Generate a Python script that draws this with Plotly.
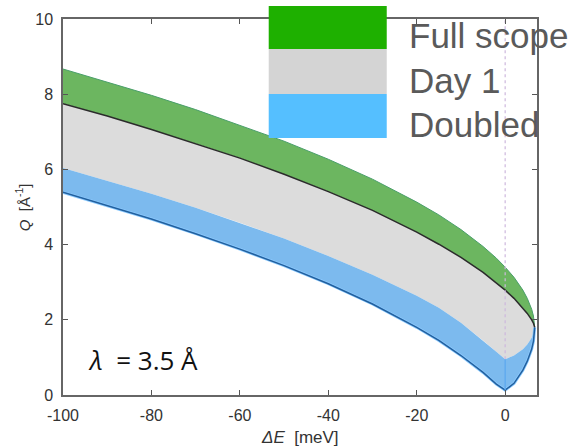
import plotly.graph_objects as go

# Energy transfer (meV)
dE = [-100, -90, -80, -70, -60, -50, -40, -30, -20, -15, -10, -5, -2, 0, 2, 4, 5, 6, 6.4, 6.68]
# Q boundaries (1/Å)
green_top = [8.67, 8.33, 7.97, 7.59, 7.18, 6.75, 6.27, 5.74, 5.13, 4.79, 4.40, 3.95, 3.64, 3.40, 3.13, 2.79, 2.57, 2.28, 2.10, 1.80]
black_line = [7.75, 7.42, 7.06, 6.69, 6.30, 5.87, 5.41, 4.91, 4.33, 4.01, 3.66, 3.26, 2.99, 2.79, 2.57, 2.32, 2.17, 2.00, 1.91, 1.80]
gray_bottom = [6.04, 5.70, 5.35, 4.98, 4.58, 4.16, 3.70, 3.20, 2.64, 2.32, 1.92, 1.45, 1.15, 0.95, 1.05, 1.22, 1.34, 1.52, 1.64, 1.80]
blue_bottom = [5.39, 5.04, 4.68, 4.29, 3.88, 3.44, 2.96, 2.42, 1.80, 1.45, 1.05, 0.60, 0.29, 0.13, 0.31, 0.66, 0.90, 1.22, 1.43, 1.80]

legend_names = ["Full scope", "Day 1", "Doubled"]
legend_colors = ["#1eb000", "#d4d4d4", "#55bfff"]
x_ticks = [-100, -80, -60, -40, -20, 0]
x_tick_labels = ["-100", "-80", "-60", "-40", "-20", "0"]
y_ticks = [0, 2, 4, 6, 8, 10]

fig = go.Figure()

def band(upper, lower, color):
    fig.add_trace(go.Scatter(
        x=dE + dE[::-1], y=upper + lower[::-1], fill="toself",
        fillcolor=color, line=dict(width=0), mode="lines",
        hoverinfo="skip", showlegend=False))

band(green_top, black_line, "#6cb660")
band(black_line, gray_bottom, "#dcdcdc")
band(gray_bottom, blue_bottom, "#7cbaee")

# edge lines
fig.add_trace(go.Scatter(x=dE, y=green_top, mode="lines",
                         line=dict(color="#4a9f6a", width=1), showlegend=False))
fig.add_trace(go.Scatter(x=dE, y=blue_bottom, mode="lines",
                         line=dict(color="#8ccaff", width=3), showlegend=False))
fig.add_trace(go.Scatter(x=dE, y=blue_bottom, mode="lines",
                         line=dict(color="#22609e", width=1.5), showlegend=False))
fig.add_trace(go.Scatter(x=dE, y=black_line, mode="lines",
                         line=dict(color="#2b2b2b", width=1.5), showlegend=False))
# elastic line
i0 = dE.index(0)
fig.add_trace(go.Scatter(x=[0, 0], y=[gray_bottom[i0], 10], mode="lines",
                         line=dict(color="#cdb8dd", width=1.2, dash="dot"), showlegend=False))
fig.add_trace(go.Scatter(x=[0, 0], y=[blue_bottom[i0], gray_bottom[i0]], mode="lines",
                         line=dict(color="#5aa8f0", width=1.2), showlegend=False))

# legend boxes (drawn as shapes on top)
box_y = [(1.0346, 0.9202), (0.9202, 0.8005), (0.8005, 0.6835)]
label_y = [0.955, 0.837, 0.72]
for name, col, (y1, y0), ly in zip(legend_names, legend_colors, box_y, label_y):
    fig.add_shape(type="rect", xref="paper", yref="paper",
                  x0=0.434, x1=0.683, y0=y0, y1=y1,
                  fillcolor=col, line=dict(width=0), layer="above")
    fig.add_annotation(text=name, xref="paper", yref="paper", x=0.725, y=ly,
                       xanchor="left", yanchor="middle", showarrow=False,
                       font=dict(family="Liberation Sans, Arial", size=35, color="#5a5a5a"))

fig.add_annotation(text="<i>λ</i>  = 3.5 Å", xref="x", yref="y", x=-94.8, y=0.93,
                   xanchor="left", yanchor="middle", showarrow=False,
                   font=dict(family="Open Sans, Lato", size=26, color="#111"))

# axis titles
fig.add_annotation(text="<i>ΔE</i>  [meV]", xref="paper", yref="paper", x=0.5, y=-0.112,
                   xanchor="center", yanchor="middle", showarrow=False,
                   font=dict(family="Liberation Sans, Arial", size=17, color="#333"))
fig.add_annotation(text="<i>Q</i>  [Å<sup>-1</sup>]", xref="paper", yref="paper", x=-0.086, y=0.5,
                   xanchor="center", yanchor="middle", showarrow=False, textangle=-90,
                   font=dict(family="Liberation Sans, Arial", size=15, color="#333"))

fig.update_layout(
    width=576, height=448,
    margin=dict(l=63, r=38.5, t=19, b=53, autoexpand=False),
    paper_bgcolor="white", plot_bgcolor="white",
    showlegend=False,
    font=dict(family="Liberation Sans, Arial", size=16, color="#333"),
)
fig.update_xaxes(range=[-100, 7.2], tickvals=x_ticks, ticktext=x_tick_labels,
                 ticks="inside", ticklen=5, automargin=False,
                 tickcolor="#555", showline=True, linecolor="#666", linewidth=1.5,
                 mirror="ticks", showgrid=False, zeroline=False,
                 ticklabelstandoff=5)
fig.update_yaxes(range=[0, 10], tickvals=y_ticks, ticks="inside", ticklen=5, automargin=False,
                 tickcolor="#555", showline=True, linecolor="#666", linewidth=1.5,
                 mirror="ticks", showgrid=False, zeroline=False,
                 ticklabelstandoff=5)

fig.write_html("out.html", config={"displayModeBar": False},
               post_script="document.body.style.margin='0';document.body.style.overflow='hidden';")
